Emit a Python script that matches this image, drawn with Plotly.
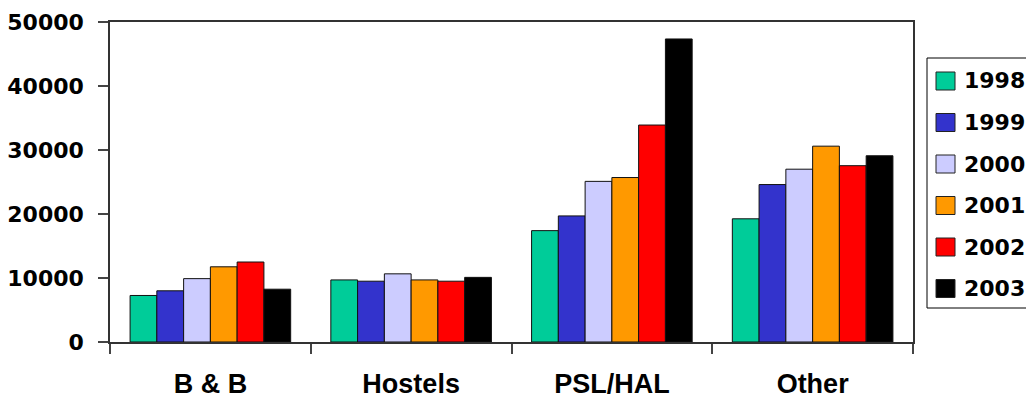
import plotly.graph_objects as go

categories = ["B & B", "Hostels", "PSL/HAL", "Other"]
years = ["1998", "1999", "2000", "2001", "2002", "2003"]
v1998 = [7270, 9700, 17400, 19250]
v1999 = [8000, 9500, 19700, 24600]
v2000 = [9900, 10650, 25100, 27000]
v2001 = [11750, 9700, 25700, 30600]
v2002 = [12500, 9500, 33900, 27550]
v2003 = [8250, 10100, 47350, 29100]
series = [v1998, v1999, v2000, v2001, v2002, v2003]
colors = ["#00CC99", "#3333CC", "#CCCCFF", "#FF9900", "#FF0000", "#000000"]
y_ticks = [0, 10000, 20000, 30000, 40000, 50000]

W, H = 1026, 401
L, R, T, B = 110, 113, 22, 59

fig = go.Figure()
for yr, vals, col in zip(years, series, colors):
    fig.add_trace(go.Bar(
        x=categories, y=vals, name=yr,
        marker=dict(color=col, line=dict(color="#111111", width=1)),
        showlegend=False,
    ))

# manual legend (large swatches like the original)
pw = W - L - R
ph = H - T - B
def px(x):
    return (x - L) / pw
def py(y):
    return (H - B - y) / ph

shapes = [dict(type="rect", xref="paper", yref="paper",
               x0=px(927), x1=px(1040), y0=py(308), y1=py(58),
               line=dict(color="black", width=1), fillcolor="white", layer="below")]
annotations = []
top_c, step = 81, 41.5
for i, (yr, col) in enumerate(zip(years, colors)):
    cy = top_c + i * step
    shapes.append(dict(type="rect", xref="paper", yref="paper",
                       x0=px(936), x1=px(955), y0=py(cy + 9), y1=py(cy - 9),
                       fillcolor=col, line=dict(color="#222222", width=1)))
    annotations.append(dict(xref="paper", yref="paper", x=px(962), y=py(cy),
                            text=yr, showarrow=False, xanchor="left", yanchor="middle",
                            font=dict(family="DejaVu Sans", size=22, color="black",
                                      weight="bold")))

fig.update_layout(
    template="none",
    width=W, height=H,
    margin=dict(l=L, r=R, t=T, b=B, pad=0, autoexpand=False),
    paper_bgcolor="white", plot_bgcolor="white",
    barmode="group", bargap=0.2, bargroupgap=0,
    shapes=shapes, annotations=annotations,
    showlegend=False,
    xaxis=dict(
        type="category", tickson="boundaries", ticks="outside", ticklen=10,
        tickcolor="#444444", tickwidth=1.5, automargin=False,
        showline=True, linecolor="#333333", linewidth=1.5, mirror=True,
        showgrid=False, ticklabelstandoff=17,
        tickfont=dict(family="Liberation Sans", size=27, color="black", weight="bold"),
    ),
    yaxis=dict(
        range=[0, 50000], tickvals=y_ticks, ticktext=[str(v) for v in y_ticks],
        ticks="outside", ticklen=10, automargin=False,
        tickcolor="#444444", tickwidth=1.5,
        showline=True, linecolor="#333333", linewidth=1.5, mirror=True,
        showgrid=False, zeroline=False, ticklabelstandoff=10,
        tickfont=dict(family="DejaVu Sans", size=22, color="black", weight="bold"),
    ),
)

fig.write_html("out.html", config={"displayModeBar": False},
               post_script="document.body.style.margin='0';document.body.style.overflow='hidden';")
